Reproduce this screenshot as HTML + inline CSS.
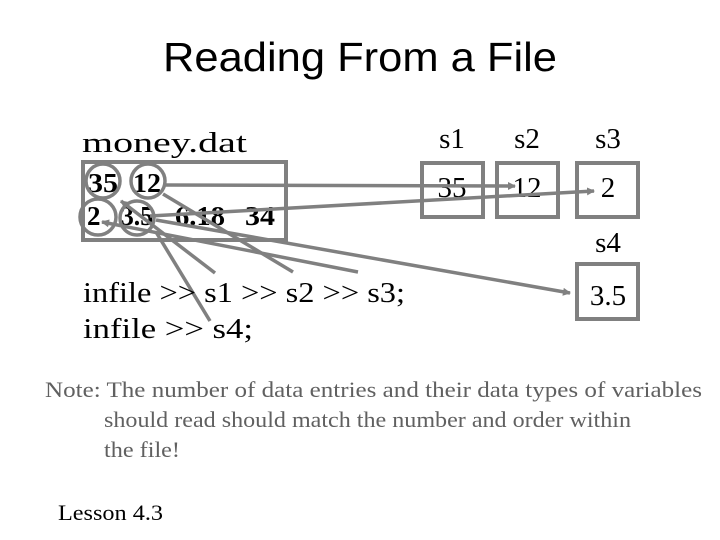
<!DOCTYPE html>
<html><head><meta charset="utf-8"><style>
body{margin:0;width:720px;height:540px;background:#fff;overflow:hidden}
svg{display:block}
</style></head><body>
<svg width="720" height="540" xmlns="http://www.w3.org/2000/svg">
<defs><marker id="a" markerWidth="8" markerHeight="8" refX="7" refY="4" orient="auto" markerUnits="userSpaceOnUse"><path d="M0,0 L8,4 L0,8 Z" fill="#808080"/></marker></defs>
<text x="163" y="71" font-family="Liberation Sans, sans-serif" font-size="41" textLength="394" lengthAdjust="spacingAndGlyphs">Reading From a File</text>
<text x="82" y="152" font-family="Liberation Serif, serif" font-size="29" textLength="165" lengthAdjust="spacingAndGlyphs">money.dat</text>
<g font-family="Liberation Serif, serif" font-size="29" text-anchor="middle">
<text x="452" y="148">s1</text><text x="527" y="148">s2</text><text x="608" y="148">s3</text><text x="608" y="252">s4</text>
<text x="452" y="197">35</text><text x="527" y="197">12</text><text x="608" y="197">2</text><text x="608" y="305">3.5</text>
</g>
<g fill="none" stroke="#808080" stroke-width="4">
<rect x="83" y="162" width="203" height="78"/>
<rect x="422" y="163" width="61" height="54"/><rect x="497" y="163" width="61" height="54"/><rect x="577" y="163" width="61" height="54"/>
<rect x="577" y="264" width="61" height="55"/>
</g>
<g font-family="Liberation Serif, serif" font-size="27" font-weight="bold">
<text x="88" y="192" textLength="30" lengthAdjust="spacingAndGlyphs">35</text><text x="133" y="192" textLength="28" lengthAdjust="spacingAndGlyphs">12</text>
<text x="87" y="225">2</text><text x="121" y="225" textLength="32" lengthAdjust="spacingAndGlyphs">3.5</text><text x="175" y="225" textLength="50" lengthAdjust="spacingAndGlyphs">6.18</text><text x="245" y="225" textLength="30" lengthAdjust="spacingAndGlyphs">34</text>
</g>
<g fill="none" stroke="#808080" stroke-width="3.5">
<circle cx="103" cy="181" r="17"/><circle cx="148" cy="181" r="17"/>
<circle cx="98" cy="217" r="18"/><circle cx="137" cy="218" r="17"/>
<line x1="163" y1="185" x2="515" y2="186" marker-end="url(#a)"/>
<line x1="150" y1="216" x2="594" y2="191" marker-end="url(#a)"/>
<line x1="156" y1="220" x2="570" y2="293" marker-end="url(#a)"/>
<line x1="215" y1="273" x2="121" y2="201" marker-end="url(#a)"/>
<line x1="293" y1="272" x2="163" y2="194"/>
<line x1="358" y1="272" x2="102" y2="222" marker-end="url(#a)"/>
<line x1="210" y1="321" x2="156" y2="232"/>
</g>
<g font-family="Liberation Serif, serif" font-size="29">
<text x="83" y="302" textLength="322" lengthAdjust="spacingAndGlyphs">infile &gt;&gt; s1 &gt;&gt; s2 &gt;&gt; s3;</text>
<text x="83" y="338" textLength="170" lengthAdjust="spacingAndGlyphs">infile &gt;&gt; s4;</text>
</g>
<g font-family="Liberation Serif, serif" font-size="22" fill="#606060">
<text x="45" y="397" textLength="657" lengthAdjust="spacingAndGlyphs">Note: The number of data entries and their data types of variables</text>
<text x="104" y="427" textLength="527" lengthAdjust="spacingAndGlyphs">should read should match the number and order within</text>
<text x="104" y="457" textLength="76" lengthAdjust="spacingAndGlyphs">the file!</text>
</g>
<text x="58" y="520" font-family="Liberation Serif, serif" font-size="22" textLength="105" lengthAdjust="spacingAndGlyphs">Lesson 4.3</text>
</svg>
</body></html>
